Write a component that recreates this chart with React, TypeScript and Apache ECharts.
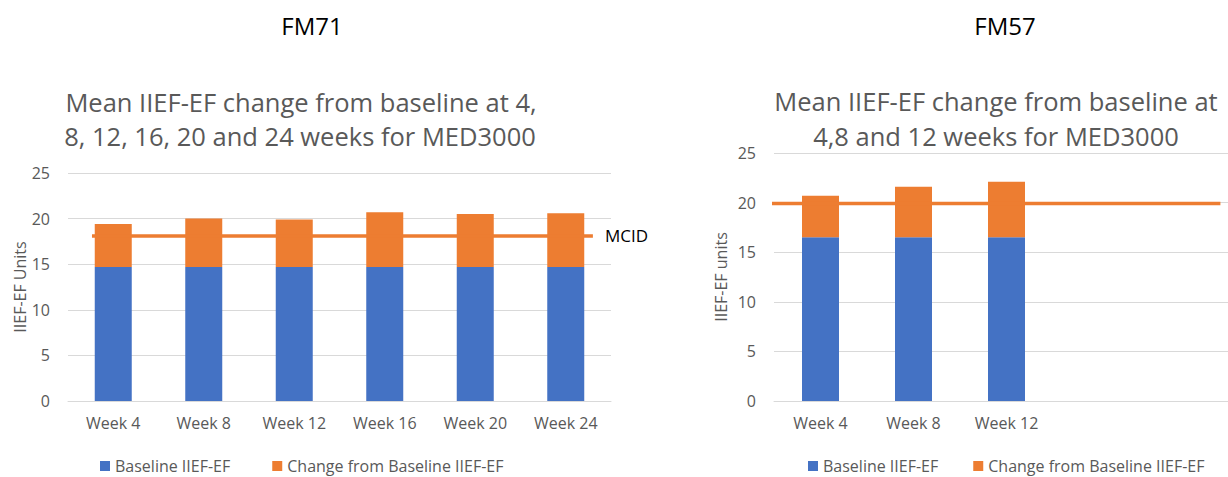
import React, { useEffect, useRef } from "react";
import * as echarts from "echarts";

// ---- Data ----
const weeksFM71 = ["Week 4", "Week 8", "Week 12", "Week 16", "Week 20", "Week 24"];
const baselineFM71 = [14.7, 14.7, 14.7, 14.7, 14.7, 14.7];
const changeFM71 = [4.7, 5.3, 5.2, 6.0, 5.8, 5.9];
const mcidFM71 = 18.1;

const weeksFM57 = ["Week 4", "Week 8", "Week 12", "", "", ""];
const baselineFM57: (number | string)[] = [16.5, 16.5, 16.5, "-", "-", "-"];
const changeFM57: (number | string)[] = [4.2, 5.1, 5.6, "-", "-", "-"];
const thresholdFM57 = 19.9;

const yTicks = [0, 25, 5]; // min, max, interval

const seriesNames = ["Baseline IIEF-EF", "Change from Baseline IIEF-EF"];
const titleFM71 = "FM71";
const titleFM57 = "FM57";
const subtitleFM71 = ["Mean IIEF-EF change from baseline at 4,", "8, 12, 16, 20 and 24 weeks for MED3000"];
const subtitleFM57 = ["Mean IIEF-EF change from baseline at", "4,8 and 12 weeks for MED3000"];

const FONT = '"Open Sans", "Noto Sans", sans-serif';
const BLUE = "#4472C4";
const ORANGE = "#ED7D31";
const GREY = "#595959";
const GRID = "#d9d9d9";

function yAxis(gridIndex: number, name: string, nameGap: number) {
  return {
    type: "value",
    gridIndex,
    min: yTicks[0],
    max: yTicks[1],
    interval: yTicks[2],
    name,
    nameLocation: "middle",
    nameGap,
    nameTextStyle: { fontSize: 16, color: GREY, fontFamily: FONT },
    axisLine: { show: false },
    axisTick: { show: false },
    axisLabel: { fontSize: 16, color: GREY, fontFamily: FONT, margin: 18 },
    splitLine: { lineStyle: { color: GRID, width: 1 } },
  };
}

function catAxis(gridIndex: number, data: string[]) {
  return {
    type: "category",
    gridIndex,
    data,
    axisLine: { lineStyle: { color: GRID, width: 1 } },
    axisTick: { show: false },
    axisLabel: { fontSize: 16, color: GREY, fontFamily: FONT, margin: 14, interval: 0 },
  };
}

function hiddenValueAxis(gridIndex: number, n: number) {
  return { type: "value", gridIndex, min: 0, max: n, show: false, splitLine: { show: false } };
}

function textEl(text: string, x: number, y: number, size: number, color: string) {
  return {
    type: "text",
    x,
    y,
    style: {
      text,
      fill: color,
      fontSize: size,
      fontFamily: FONT,
      align: "center",
      verticalAlign: "middle",
    },
  };
}

export default function App() {
  const ref = useRef<HTMLDivElement>(null);
  useEffect(() => {
    if (!ref.current) return;
    const chart = echarts.init(ref.current, undefined, { renderer: "svg" });
    const option: any = {
      animation: false,
      textStyle: { fontFamily: FONT },
      grid: [
        { left: 68, top: 173, bottom: 76, width: 543 },
        { left: 774, top: 153, bottom: 76, right: 0 },
      ],
      xAxis: [
        catAxis(0, weeksFM71),
        catAxis(1, weeksFM57),
        hiddenValueAxis(0, weeksFM71.length),
        hiddenValueAxis(1, weeksFM57.length),
      ],
      yAxis: [yAxis(0, "IIEF-EF Units", 39), yAxis(1, "IIEF-EF units", 45)],
      legend: [
        {
          data: seriesNames,
          left: 95,
          top: 453,
          itemWidth: 10,
          itemHeight: 10,
          itemGap: 42,
          icon: "rect",
          textStyle: { fontSize: 16, color: GREY, fontFamily: FONT },
        },
        {
          data: seriesNames,
          left: 803,
          top: 453,
          itemWidth: 10,
          itemHeight: 10,
          itemGap: 35,
          icon: "rect",
          textStyle: { fontSize: 16, color: GREY, fontFamily: FONT },
        },
      ],
      series: [
        {
          type: "bar",
          name: seriesNames[0],
          xAxisIndex: 0,
          yAxisIndex: 0,
          stack: "fm71",
          barWidth: 37,
          itemStyle: { color: BLUE },
          data: baselineFM71,
        },
        {
          type: "bar",
          name: seriesNames[1],
          xAxisIndex: 0,
          yAxisIndex: 0,
          stack: "fm71",
          barWidth: 37,
          itemStyle: { color: ORANGE },
          data: changeFM71,
        },
        {
          type: "line",
          name: "MCID",
          xAxisIndex: 2,
          yAxisIndex: 0,
          symbol: "none",
          clip: false,
          lineStyle: { color: ORANGE, width: 3.5 },
          data: [
            [0.265, mcidFM71],
            [weeksFM71.length - 0.2, mcidFM71],
          ],
          endLabel: {
            show: true,
            formatter: "MCID",
            color: "#000",
            fontSize: 17,
            fontFamily: FONT,
            distance: 12,
          },
          z: 3,
        },
        {
          type: "bar",
          name: seriesNames[0],
          xAxisIndex: 1,
          yAxisIndex: 1,
          stack: "fm57",
          barWidth: 37,
          itemStyle: { color: BLUE },
          data: baselineFM57,
        },
        {
          type: "bar",
          name: seriesNames[1],
          xAxisIndex: 1,
          yAxisIndex: 1,
          stack: "fm57",
          barWidth: 37,
          itemStyle: { color: ORANGE },
          data: changeFM57,
        },
        {
          type: "line",
          name: "Threshold",
          xAxisIndex: 3,
          yAxisIndex: 1,
          symbol: "none",
          clip: false,
          lineStyle: { color: ORANGE, width: 3.5 },
          data: [
            [-0.05, thresholdFM57],
            [4.8, thresholdFM57],
          ],
          z: 3,
        },
      ],
      graphic: [
        textEl(titleFM71, 312, 25, 24, "#000"),
        textEl(titleFM57, 1005, 25, 24, "#000"),
        textEl(subtitleFM71[0], 301, 102, 25.5, GREY),
        textEl(subtitleFM71[1], 300, 136, 25.5, GREY),
        textEl(subtitleFM57[0], 996, 101, 25.5, GREY),
        textEl(subtitleFM57[1], 996, 136, 25.5, GREY),
      ],
    };
    chart.setOption(option);
    return () => chart.dispose();
  }, []);
  return (
    <div
      style={{
        position: "fixed",
        left: 0,
        top: 0,
        width: 1228,
        height: 477,
        overflow: "hidden",
        background: "#fff",
      }}
    >
      <div ref={ref} style={{ width: 1332, height: 477 }} />
    </div>
  );
}
